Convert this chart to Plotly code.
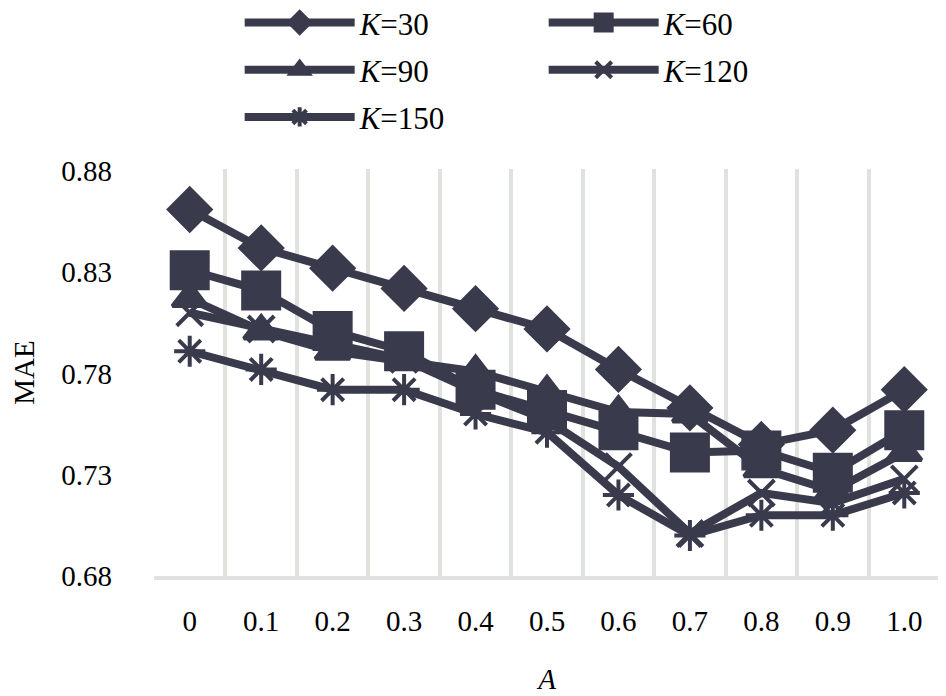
import plotly.graph_objects as go

# A values (categories on the x axis)
a_labels = ["0", "0.1", "0.2", "0.3", "0.4", "0.5", "0.6", "0.7", "0.8", "0.9", "1.0"]

# MAE for each neighbourhood size K
mae_k30 = [0.861, 0.842, 0.832, 0.822, 0.812, 0.802, 0.782, 0.763, 0.745, 0.752, 0.772]
mae_k60 = [0.831, 0.821, 0.801, 0.791, 0.772, 0.762, 0.752, 0.741, 0.742, 0.731, 0.752]
mae_k90 = [0.817, 0.801, 0.791, 0.786, 0.781, 0.771, 0.761, 0.760, 0.733, 0.722, 0.741]
mae_k120 = [0.810, 0.802, 0.794, 0.787, 0.771, 0.757, 0.734, 0.701, 0.721, 0.716, 0.728]
mae_k150 = [0.791, 0.782, 0.772, 0.772, 0.760, 0.751, 0.720, 0.700, 0.710, 0.710, 0.721]

y_ticks = [0.68, 0.73, 0.78, 0.83, 0.88]

dark = "#393b4d"
serif = "Liberation Serif, Times New Roman, serif"

# name, values, marker symbol, marker size, legend row
series = [
    ("<i>K</i>=30", mae_k30, "diamond", 32, "legend"),
    ("<i>K</i>=60", mae_k60, "square", 36, "legend"),
    ("<i>K</i>=90", mae_k90, "triangle-up", 30, "legend2"),
    ("<i>K</i>=120", mae_k120, "x-thin-open", 26, "legend2"),
    ("<i>K</i>=150", mae_k150, "asterisk-open", 26, "legend3"),
]

fig = go.Figure()
for name, vals, sym, size, leg in series:
    fig.add_trace(go.Scatter(
        x=a_labels,
        y=vals,
        name=name,
        legend=leg,
        mode="lines+markers",
        line=dict(color=dark, width=8),
        marker=dict(symbol=sym, size=size, color=dark,
                    line=dict(color=dark, width=4)),
    ))

# one legend per row so the row spacing can be matched
def row_legend(y):
    return dict(
        orientation="h",
        x=0.109, xanchor="left",
        y=y, yanchor="middle",
        itemwidth=110,
        entrywidth=179,
        entrywidthmode="pixels",
        font=dict(family=serif, size=31, color="black"),
        bgcolor="rgba(0,0,0,0)",
    )

fig.update_layout(
    width=946,
    height=696,
    paper_bgcolor="white",
    plot_bgcolor="white",
    margin=dict(l=146, r=14, t=161, b=128, autoexpand=False),
    font=dict(family=serif, size=29, color="black"),
    legend=row_legend(1.359),
    legend2=row_legend(1.243),
    legend3=row_legend(1.127),
    xaxis=dict(
        type="category",
        range=[-0.5, 10.5],
        tickson="boundaries",
        automargin=False,
        showgrid=True,
        gridcolor="#dfe2dd",
        gridwidth=4,
        showline=True,
        linecolor="#dfe2dd",
        linewidth=4,
        ticks="",
        ticklabelstandoff=16,
        tickfont=dict(family=serif, size=29, color="black"),
        title=dict(text="<i>A</i>", standoff=34,
                   font=dict(family=serif, size=29, color="black")),
        zeroline=False,
    ),
    yaxis=dict(
        range=[0.68, 0.881],
        automargin=False,
        tickvals=y_ticks,
        ticktext=[f"{v:.2f}" for v in y_ticks],
        showgrid=False,
        zeroline=False,
        showline=False,
        ticks="",
        ticklabelstandoff=41,
        tickfont=dict(family=serif, size=29, color="black"),
        title=dict(text="MAE", standoff=31,
                   font=dict(family=serif, size=29, color="black")),
    ),
)

fig.write_html("out.html")
